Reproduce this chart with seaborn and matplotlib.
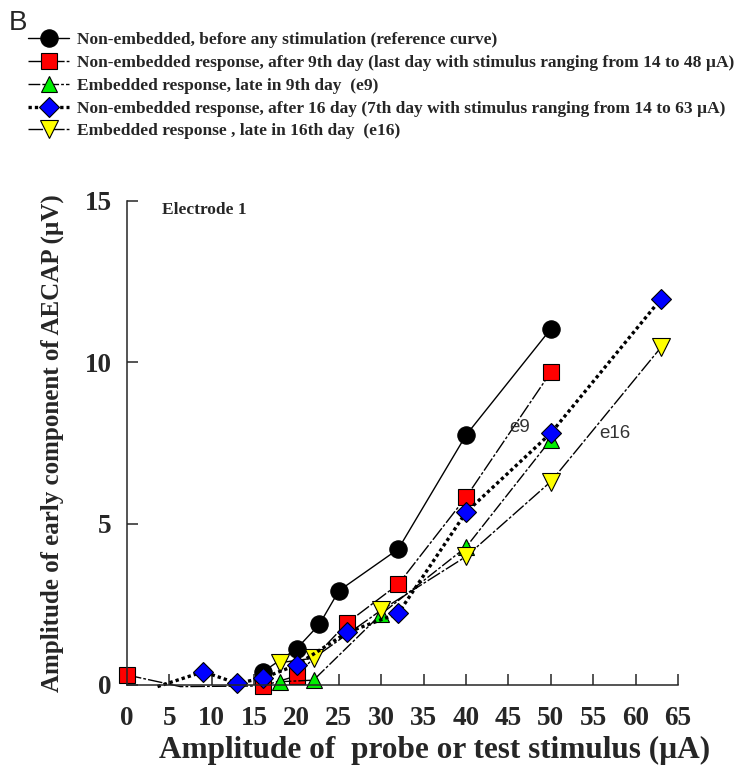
import matplotlib
matplotlib.use("Agg")
import matplotlib.pyplot as plt
import seaborn as sns
import pandas as pd

# ---- data -------------------------------------------------------------
# reference curve (non-embedded, before stimulation)
x_ref = [16, 20, 22.7, 25, 32, 40, 50]
y_ref = [0.40, 1.12, 1.88, 2.92, 4.21, 7.74, 11.03]

# non-embedded response after 9th day
x_d9 = [0, 6.3, 16, 20, 26, 32, 40, 50]
y_d9 = [0.31, -0.05, -0.03, 0.28, 1.93, 3.12, 5.82, 9.69]

# embedded response late in 9th day (e9)
x_e9 = [18, 22, 30, 40, 50]
y_e9 = [0.10, 0.15, 2.20, 4.27, 7.60]

# non-embedded response after 16 days
x_d16 = [3.6, 9, 13, 16, 20, 26, 32, 40, 50, 63]
y_d16 = [-0.05, 0.41, 0.05, 0.21, 0.62, 1.63, 2.22, 5.35, 7.80, 11.96]

# embedded response late in 16th day (e16)
x_e16 = [18, 22, 30, 40, 50, 63]
y_e16 = [0.69, 0.83, 2.32, 3.98, 6.30, 10.46]

labels = [
    "Non-embedded, before any stimulation (reference curve)",
    "Non-embedded response, after 9th day (last day with stimulus ranging from 14 to 48 \u00b5A)",
    "Embedded response, late in 9th day  (e9)",
    "Non-embedded response, after 16 day (7th day with stimulus ranging from 14 to 63 \u00b5A)",
    "Embedded response , late in 16th day  (e16)",
]
x_ticks = list(range(0, 66, 5))
y_ticks = [0, 5, 10, 15]

# ---- style ------------------------------------------------------------
sns.set_style("ticks")
plt.rcParams["font.family"] = ["Liberation Serif", "DejaVu Serif"]
plt.rcParams["axes.linewidth"] = 1.1
plt.rcParams["xtick.direction"] = "in"
plt.rcParams["ytick.direction"] = "in"

fig = plt.figure(figsize=(7.41, 7.68), dpi=100)
ax = fig.add_axes([0.1714, 0.1081, 0.7436, 0.6306])

series = [
    dict(x=x_ref, y=y_ref, marker="o", ms=12.5, color="black",
         ls="-", lw=1.0, mev=None),
    dict(x=x_d9, y=y_d9, marker="s", ms=11.5, color="#ff0000",
         ls=(0, (10.5, 1.5, 2.0, 1.5)), lw=1.0,
         mev=[0, 2, 3, 4, 5, 6, 7]),
    dict(x=x_e9, y=y_e9, marker="^", ms=11.0, color="#00ee00",
         ls=(0, (8.5, 1.5, 2.0, 1.5)), lw=1.0, mev=None),
    dict(x=x_e16, y=y_e16, marker="v", ms=12.5, color="#ffff00",
         ls=(0, (10.5, 1.5, 2.0, 1.5)), lw=1.0, mev=None),
    dict(x=x_d16, y=y_d16, marker="D", ms=10.0, color="#0000ff",
         ls=(0, (1, 0.9)), lw=2.4,
         mev=list(range(1, len(x_d16)))),
]
label_order = [0, 1, 2, 4, 3]

handles = {}
for s, li in zip(series, label_order):
    df = pd.DataFrame({"x": s["x"], "y": s["y"]})
    n_before = len(ax.lines)
    sns.lineplot(data=df, x="x", y="y", ax=ax, sort=False, estimator=None,
                 color="black", linewidth=s["lw"],
                 marker=s["marker"], markersize=s["ms"],
                 markerfacecolor=s["color"], markeredgecolor="black",
                 markeredgewidth=0.8, markevery=s["mev"], clip_on=False,
                 legend=False)
    line = ax.lines[n_before]
    line.set_linestyle(s["ls"])
    line.set_dash_capstyle("butt")
    handles[li] = line

ax.set_xlim(0, 65)
ax.set_ylim(0, 15)
ax.set_xticks(x_ticks)
ax.set_yticks(y_ticks)
ax.tick_params(axis="both", direction="in", length=8, width=1.1,
               labelsize=19.5)
ax.tick_params(axis="x", pad=15)
ax.tick_params(axis="y", pad=11)
for t in ax.get_xticklabels() + ax.get_yticklabels():
    t.set_fontweight("bold")
sns.despine(ax=ax)

ax.set_xlabel("Amplitude of  probe or test stimulus (\u00b5A)",
              fontsize=22.5, fontweight="bold")
ax.xaxis.set_label_coords(0.559, -0.105)
ax.set_ylabel("Amplitude of early component of AECAP (\u00b5V)",
              fontsize=18, fontweight="bold", labelpad=15)

ax.text(4.1, 14.7, "Electrode 1", fontsize=12.5, fontweight="bold",
        ha="left", va="center")
ax.text(45.1, 7.96, "e9", fontsize=13.5, family=["Liberation Sans"],
        color="#333333", ha="left", va="center")
ax.text(55.7, 7.8, "e16", fontsize=13.5, family=["Liberation Sans"],
        color="#333333", ha="left", va="center")

fig.text(0.012, 0.97, "B", fontsize=20, family=["Liberation Sans"],
         ha="left", va="center")

leg = fig.legend([handles[i] for i in range(5)], labels,
                 loc="upper left", bbox_to_anchor=(0.028, 0.967),
                 frameon=False, handlelength=2.4, handletextpad=0.45,
                 labelspacing=0.38, borderaxespad=0,
                 prop=dict(family="Liberation Serif", weight="bold", size=12.5))

fig.savefig("out.png", dpi=100)
